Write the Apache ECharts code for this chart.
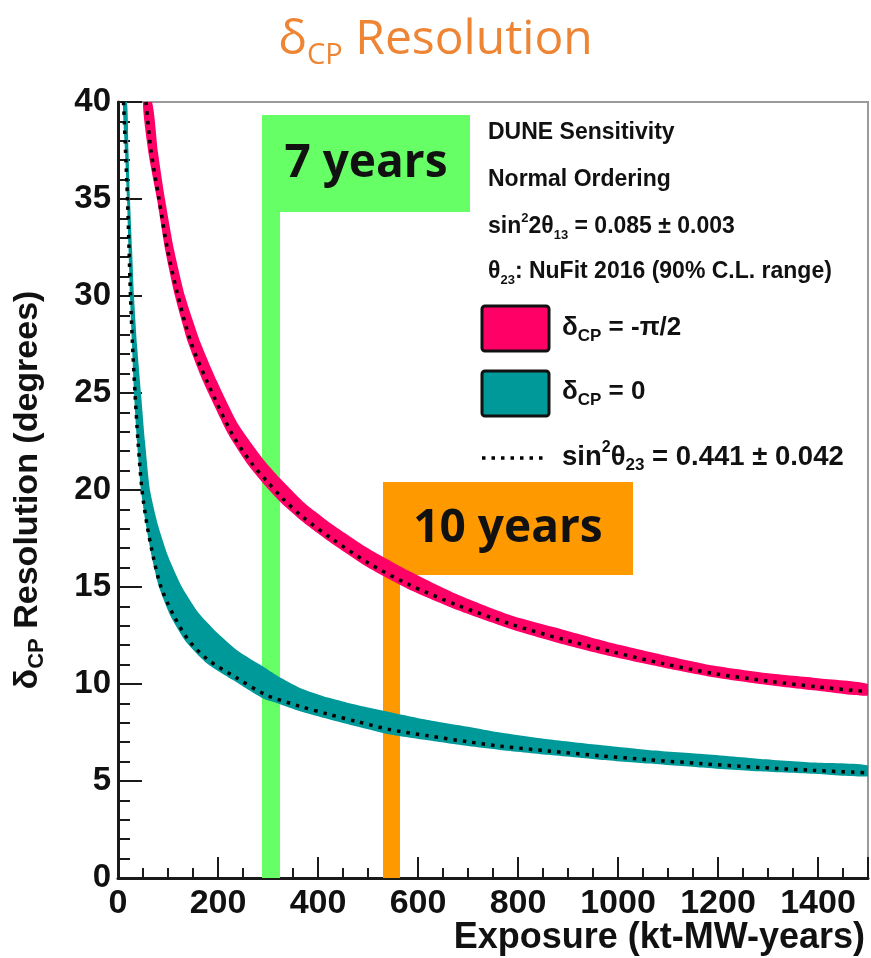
<!DOCTYPE html>
<html>
<head>
<meta charset="utf-8">
<script src="https://cdn.jsdelivr.net/npm/echarts@6/dist/echarts.min.js"></script>
<style>
  html, body { margin: 0; padding: 0; background: #fff; }
  #chart { width: 871px; height: 958px; }
</style>
</head>
<body>
<div id="chart"></div>
<script>
// Edges of the resolution bands, [exposure (kt-MW-years), resolution (degrees)]
const redUpper = [[68,40],[80,37.4],[94,35],[112,32.4],[134,30],[165,27.6],[198,25.6],[240,23.4],[290,21.6],[324,20.6],[370,19.4],[430,18.2],[500,17.0],[580,15.85],[680,14.6],[790,13.5],[890,12.8],[990,12.1],[1090,11.5],[1190,10.95],[1300,10.55],[1400,10.3],[1500,10.0]];
const redLower = [[50,40],[62,37.2],[78,35],[95,32.3],[114,30],[140,27.6],[170,25.6],[220,22.9],[260,21.3],[290,20.35],[324,19.4],[370,18.35],[430,17.2],[500,16.0],[580,14.9],[680,13.8],[790,12.8],[890,12.05],[990,11.4],[1090,10.85],[1190,10.35],[1300,9.95],[1400,9.65],[1500,9.4]];
const redCentral = [[56,40],[66,37.5],[82,35],[99,32.4],[120,30],[146,27.6],[178,25.6],[228,22.9],[268,21.35],[298,20.45],[330,19.55],[370,18.6],[430,17.45],[500,16.25],[580,15.15],[680,14.05],[790,13.05],[890,12.3],[990,11.65],[1090,11.05],[1190,10.55],[1300,10.15],[1400,9.85],[1500,9.6]];

const tealUpper = [[18,40],[21,37.5],[24,35],[28,32.5],[32,30],[38,27.5],[46,25],[54,22.5],[64,20],[80,18.2],[100,16.6],[128,15],[160,13.7],[200,12.6],[240,11.7],[290,10.9],[320,10.4],[364,9.8],[420,9.3],[480,8.9],[544,8.55],[620,8.15],[700,7.8],[764,7.5],[860,7.15],[964,6.85],[1060,6.6],[1164,6.4],[1280,6.15],[1390,5.95],[1500,5.8]];
const tealLower = [[10,40],[14,37.5],[18,35],[21,32.5],[24,30],[28,27.5],[32,25],[38,22.5],[46,20],[56,18.2],[68,16.5],[82,15],[105,13.5],[135,12.2],[176,11.1],[230,10.2],[290,9.25],[320,9.0],[364,8.6],[420,8.2],[480,7.8],[544,7.4],[620,7.1],[700,6.8],[764,6.6],[860,6.35],[964,6.1],[1060,5.9],[1164,5.7],[1280,5.5],[1390,5.37],[1500,5.25]];
const tealCentral = [[11,40],[15,37.5],[19,35],[22,32.5],[25,30],[29,27.5],[34,25],[40,22.5],[48,20],[58,18.2],[71,16.5],[86,15],[110,13.6],[140,12.3],[180,11.25],[235,10.35],[295,9.45],[364,8.85],[420,8.45],[480,8.05],[544,7.65],[620,7.33],[700,7.02],[764,6.8],[860,6.55],[964,6.3],[1060,6.1],[1164,5.9],[1280,5.7],[1390,5.55],[1500,5.42]];

// Run-time markers
const flagLabels = ['7 years', '10 years'];

const RED = '#FF0066';
const TEAL = '#009999';
const GREEN = '#66FF66';
const ORANGE = '#FF9900';
const TITLE_ORANGE = '#EE8535';
const AXIS = '#1a1a1a';
const SANS = '"Liberation Sans", Arial, sans-serif';

function bandSeries(name, upper, lower, color) {
  return {
    name: name,
    type: 'custom',
    z: 2,
    silent: true,
    clip: true,
    data: [[0, 0]],
    renderItem: function (params, api) {
      const pts = upper.map(p => api.coord(p))
        .concat(lower.slice().reverse().map(p => api.coord(p)));
      return { type: 'polygon', shape: { points: pts, smooth: 0.2 }, style: { fill: color } };
    }
  };
}

function centralSeries(name, pts) {
  return {
    name: name,
    type: 'line',
    z: 3,
    data: pts,
    smooth: 0.3,
    showSymbol: false,
    silent: true,
    clip: true,
    lineStyle: { color: '#000', width: 3.5, type: [3.5, 6], cap: 'butt' }
  };
}

const chart = echarts.init(document.getElementById('chart'), null, { renderer: 'canvas' });

const legendRich = {
  a: { fontFamily: SANS, fontWeight: 'bold', fontSize: 23, lineHeight: 30, verticalAlign: 'middle', fill: '#111' },
  sup: { fontFamily: SANS, fontWeight: 'bold', fontSize: 13, lineHeight: 13, verticalAlign: 'top', fill: '#111' },
  sub: { fontFamily: SANS, fontWeight: 'bold', fontSize: 13, lineHeight: 13, verticalAlign: 'bottom', fill: '#111' },
  b: { fontFamily: SANS, fontWeight: 'bold', fontSize: 26, lineHeight: 34, verticalAlign: 'middle', fill: '#111' },
  c: { fontFamily: SANS, fontWeight: 'bold', fontSize: 27.5, lineHeight: 34, verticalAlign: 'middle', fill: '#111' },
  bsup: { fontFamily: SANS, fontWeight: 'bold', fontSize: 16, lineHeight: 16, verticalAlign: 'top', fill: '#111' },
  bsub: { fontFamily: SANS, fontWeight: 'bold', fontSize: 17, lineHeight: 17, verticalAlign: 'bottom', fill: '#111' }
};

function legendText(x, y, text) {
  return { type: 'text', x: x, y: y, silent: true, z: 20,
    style: { text: text, rich: legendRich, verticalAlign: 'middle', align: 'left' } };
}

const option = {
  animation: false,
  backgroundColor: '#fff',
  title: {
    text: '{d|δ}{s|CP}{r| Resolution}',
    left: 'center',
    top: 5,
    textStyle: {
      fontWeight: 'normal',
      rich: {
        d: { fontFamily: '"Open Sans"', fontWeight: 'normal', fontSize: 48, lineHeight: 60, verticalAlign: 'middle', color: TITLE_ORANGE },
        s: { fontFamily: '"Open Sans"', fontWeight: 'normal', fontSize: 29, lineHeight: 29, verticalAlign: 'bottom', color: TITLE_ORANGE },
        r: { fontFamily: '"Open Sans"', fontWeight: 'normal', fontSize: 48, lineHeight: 60, verticalAlign: 'middle', color: TITLE_ORANGE }
      }
    }
  },
  grid: {
    left: 118, right: 3, top: 102, bottom: 80,
    outerBoundsMode: 'none',
    containLabel: false,
    show: true, borderColor: '#9a9a9a', borderWidth: 2, backgroundColor: 'transparent'
  },
  xAxis: {
    type: 'value',
    min: 0, max: 1500, interval: 200,
    axisLine: { onZero: false, lineStyle: { color: AXIS, width: 3 } },
    axisTick: { inside: true, length: 21, lineStyle: { color: AXIS, width: 2 } },
    minorTick: { show: true, splitNumber: 4, length: 10, lineStyle: { color: AXIS, width: 2 } },
    splitLine: { show: false },
    axisLabel: { color: '#111', fontFamily: SANS, fontWeight: 'bold', fontSize: 34, margin: 9,
      showMaxLabel: false, formatter: v => String(v) }
  },
  yAxis: {
    type: 'value',
    min: 0, max: 40, interval: 5,
    axisLine: { onZero: false, lineStyle: { color: AXIS, width: 3 } },
    axisTick: { inside: true, length: 24, lineStyle: { color: AXIS, width: 2 } },
    minorTick: { show: true, splitNumber: 5, length: 12, lineStyle: { color: AXIS, width: 2 } },
    splitLine: { show: false },
    axisLabel: { color: '#111', fontFamily: SANS, fontWeight: 'bold', fontSize: 33, margin: 7,
      formatter: v => String(v) },
    name: '{d|δ}{s|CP}{r| Resolution (degrees)}',
    nameLocation: 'middle',
    nameGap: 70,
    nameTextStyle: {
      rich: {
        d: { fontFamily: SANS, fontWeight: 'bold', fontSize: 34, lineHeight: 40, verticalAlign: 'middle', color: '#111' },
        s: { fontFamily: SANS, fontWeight: 'bold', fontSize: 22, lineHeight: 22, verticalAlign: 'bottom', color: '#111' },
        r: { fontFamily: SANS, fontWeight: 'bold', fontSize: 34, lineHeight: 40, verticalAlign: 'middle', color: '#111' }
      }
    }
  },
  series: [
    bandSeries('δCP = -π/2', redUpper, redLower, RED),
    bandSeries('δCP = 0', tealUpper, tealLower, TEAL),
    centralSeries('sin²θ23 = 0.441 (δCP = -π/2)', redCentral),
    centralSeries('sin²θ23 = 0.441 (δCP = 0)', tealCentral),
    {
      name: 'run time',
      type: 'line',
      data: [],
      z: 10,
      silent: true,
      markArea: {
        silent: true,
        label: {
          show: true, position: 'inside', color: '#111',
          fontFamily: '"Open Sans"', fontWeight: 'bold', fontSize: 46
        },
        emphasis: { disabled: true },
        data: [
          [{ name: '', coord: [288, 0], itemStyle: { color: GREEN, opacity: 1 } }, { coord: [324, 39.33] }],
          [{ name: flagLabels[0], coord: [288, 34.33], itemStyle: { color: GREEN, opacity: 1 } }, { coord: [704, 39.33] }],
          [{ name: '', coord: [530, 0], itemStyle: { color: ORANGE, opacity: 1 } }, { coord: [564, 20.41] }],
          [{ name: flagLabels[1], coord: [530, 15.62], itemStyle: { color: ORANGE, opacity: 1 } }, { coord: [1030, 20.41] }]
        ]
      }
    }
  ],
  graphic: [
    legendText(488, 133, '{a|DUNE Sensitivity}'),
    legendText(488, 180, '{a|Normal Ordering}'),
    legendText(488, 227, '{a|sin}{sup|2}{a|2θ}{sub|13}{a| = 0.085 ± 0.003}'),
    legendText(488, 272, '{a|θ}{sub|23}{a|: NuFit 2016 (90% C.L. range)}'),
    { type: 'rect', z: 20, silent: true, shape: { x: 482, y: 306, width: 67, height: 45, r: 3 },
      style: { fill: RED, stroke: '#111', lineWidth: 3 } },
    legendText(562, 328, '{b|δ}{bsub|CP}{b| = -π/2}'),
    { type: 'rect', z: 20, silent: true, shape: { x: 482, y: 371, width: 67, height: 45, r: 3 },
      style: { fill: TEAL, stroke: '#111', lineWidth: 3 } },
    legendText(562, 392, '{b|δ}{bsub|CP}{b| = 0}'),
    { type: 'line', z: 20, silent: true, shape: { x1: 482, y1: 458, x2: 548, y2: 458 },
      style: { stroke: '#000', lineWidth: 3.5, lineDash: [3.5, 6] } },
    legendText(562, 457, '{c|sin}{bsup|2}{c|θ}{bsub|23}{c| = 0.441 ± 0.042}'),
    { type: 'text', z: 20, silent: true, right: 6, top: 920,
      style: { text: 'Exposure (kt-MW-years)', fontFamily: SANS, fontWeight: 'bold', fontSize: 36, fill: '#111' } }
  ]
};

chart.setOption(option);
</script>
</body>
</html>
